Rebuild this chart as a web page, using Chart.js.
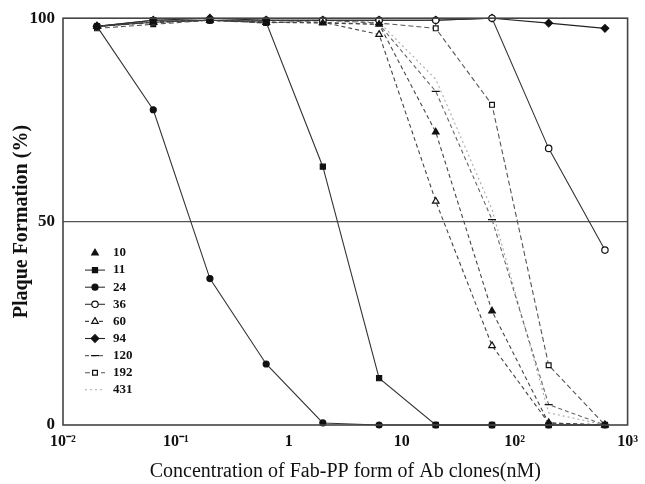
<!DOCTYPE html>
<html lang="en">
<head>
<meta charset="UTF-8">
<title>Plaque Formation</title>
<script src="https://cdn.jsdelivr.net/npm/chart.js"></script>
<style>
  html, body { margin: 0; padding: 0; background: #fff; }
  #wrap { width: 645px; height: 484px; position: relative; }
</style>
</head>
<body>
<div id="wrap"><canvas id="chart" width="645" height="484"></canvas></div>

<script>
// concentration (nM), half-decade steps
var conc = [0.02, 0.063, 0.2, 0.63, 2, 6.3, 20, 63, 200, 630];

// plaque formation (%) per Ab clone
var s10  = [98, 99, 99.5, 99, 98.8, 98.5, 72, 28, 0.5, 0];
var s11  = [98, 99.5, 99.5, 99, 63.5, 11.5, 0, 0, 0, 0];
var s24  = [98, 77.5, 36, 15, 0.5, 0, 0, 0, 0, 0];
var s36  = [98, 99, 99.5, 99.5, 99.5, 99.5, 99.5, 100, 68, 43];
var s60  = [98, 99, 99.5, 99, 99, 96, 55, 19.5, 0.5, 0];
var s94  = [98, 99.5, 100, 99.5, 99.5, 99.5, 99.5, 100, 98.8, 97.5];
var s120 = [98, 99, 99.5, 99, 99, 98.5, 82, 50.5, 5, 0];
var s192 = [97.5, 98.5, 99.5, 98.8, 99.5, 98.8, 97.5, 78.7, 14.7, 0];
var s431 = [98, 99, 99.5, 99.5, 99.5, 99, 85, 53, 3, 0];

var cloneNames = ['10', '11', '24', '36', '60', '94', '120', '192', '431'];
var xTickValues = [0.01, 0.1, 1, 10, 100, 1000];
var xTickLabels = ['10\u207B\u00B2', '10\u207B\u00B9', '1', '10', '10\u00B2', '10\u00B3'];
var yTickValues = [0, 50, 100];
var halfLine = 50;

var serif = '"Liberation Serif", "Times New Roman", serif';

function pts(vals) {
  return vals.map(function(v, i) { return { x: conc[i], y: v }; });
}

function series(label, vals, style, filled, radius, color, dash) {
  return {
    label: label,
    data: pts(vals),
    borderColor: color,
    borderWidth: 1.1,
    borderDash: dash,
    pointStyle: style,
    pointRadius: radius,
    pointBorderColor: '#111',
    pointBorderWidth: 1.2,
    pointBackgroundColor: filled ? '#111' : '#fff',
    showLine: true,
    clip: 6
  };
}

var datasets = [
  series(cloneNames[0], s10, 'triangle', true, 3.8, '#444', [4, 3]),
  series(cloneNames[1], s11, 'rect', true, 3.6, '#333', []),
  series(cloneNames[2], s24, 'circle', true, 3, '#333', []),
  series(cloneNames[3], s36, 'circle', false, 3.2, '#333', []),
  series(cloneNames[4], s60, 'triangle', false, 3.8, '#444', [4, 3]),
  series(cloneNames[5], s94, 'rectRot', true, 3.8, '#222', []),
  series(cloneNames[6], s120, 'line', false, 4, '#666', [4, 3]),
  series(cloneNames[7], s192, 'rect', false, 3.4, '#555', [5, 3]),
  series(cloneNames[8], s431, 'circle', false, 0, '#aaa', [2, 3])
];

// 50 % reference line
datasets.push({
  label: 'half',
  data: [{ x: xTickValues[0], y: halfLine }, { x: xTickValues[xTickValues.length - 1], y: halfLine }],
  borderColor: '#555',
  borderWidth: 1.3,
  pointRadius: 0,
  showLine: true
});

// box around the plot
var frame = {
  id: 'frame',
  afterDatasetsDraw: function(chart) {
    var a = chart.chartArea, ctx = chart.ctx;
    ctx.save();
    ctx.strokeStyle = '#444';
    ctx.lineWidth = 1.6;
    ctx.strokeRect(a.left, a.top, a.right - a.left, a.bottom - a.top);
    ctx.restore();
  }
};

// legend drawn inside the plot, lower left
var innerLegend = {
  id: 'innerLegend',
  afterDraw: function(chart) {
    var ctx = chart.ctx;
    var x0 = 85, y0 = 253, step = 17.1;
    ctx.save();
    for (var i = 0; i < cloneNames.length; i++) {
      var ds = chart.data.datasets[i];
      var y = y0 + i * step;
      if (i !== 0) {
        ctx.strokeStyle = ds.borderColor;
        ctx.lineWidth = 1.1;
        ctx.setLineDash(ds.borderDash || []);
        ctx.beginPath();
        ctx.moveTo(x0, y);
        ctx.lineTo(x0 + 20, y);
        ctx.stroke();
        ctx.setLineDash([]);
      }
      if (ds.pointRadius > 0) {
        ctx.fillStyle = ds.pointBackgroundColor;
        ctx.strokeStyle = ds.pointBorderColor;
        ctx.lineWidth = ds.pointBorderWidth;
        Chart.helpers.drawPoint(ctx, { pointStyle: ds.pointStyle, radius: ds.pointRadius, borderWidth: 1.2 }, x0 + 10, y);
      }
      ctx.fillStyle = '#111';
      ctx.font = 'bold 13px ' + serif;
      ctx.textBaseline = 'middle';
      ctx.textAlign = 'left';
      ctx.fillText(cloneNames[i], x0 + 28, y);
    }
    ctx.restore();
  }
};

new Chart(document.getElementById('chart'), {
  type: 'scatter',
  data: { datasets: datasets },
  options: {
    responsive: false,
    animation: false,
    layout: { padding: { top: 17, right: 13, left: 0, bottom: 0 } },
    plugins: {
      legend: { display: false },
      tooltip: { enabled: false }
    },
    scales: {
      x: {
        type: 'logarithmic',
        min: 0.01,
        max: 1000,
        grid: { display: false, drawTicks: false },
        border: { display: false },
        afterBuildTicks: function(scale) {
          scale.ticks = xTickValues.map(function(v) { return { value: v }; });
        },
        afterFit: function(scale) { scale.height = 59; },
        ticks: {
          autoSkip: false,
          maxRotation: 0,
          padding: 7,
          color: '#111',
          font: { family: serif, size: 16, weight: 'bold' },
          callback: function(v, idx) { return xTickLabels[idx]; }
        },
        title: {
          display: true,
          text: 'Concentration of Fab-PP form of Ab clones(nM)',
          color: '#111',
          padding: { top: 2, bottom: 0 },
          font: { family: serif, size: 20 }
        }
      },
      y: {
        min: 0,
        max: 100,
        grid: { display: false, drawTicks: false },
        border: { display: false },
        afterBuildTicks: function(scale) {
          scale.ticks = yTickValues.map(function(v) { return { value: v }; });
        },
        afterFit: function(scale) { scale.width = 63; },
        ticks: {
          padding: 8,
          color: '#111',
          font: { family: serif, size: 17, weight: 'bold' }
        },
        title: {
          display: true,
          text: 'Plaque Formation (%)',
          color: '#111',
          padding: { top: 10, bottom: 0 },
          font: { family: serif, size: 20, weight: 'bold' }
        }
      }
    }
  },
  plugins: [frame, innerLegend]
});
</script>
</body>
</html>
